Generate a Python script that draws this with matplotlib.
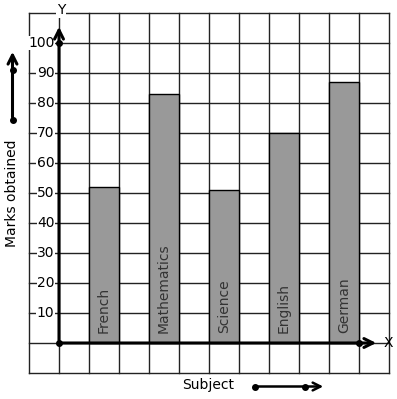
import matplotlib
matplotlib.use("Agg")
import matplotlib.pyplot as plt

subjects = ["French", "Mathematics", "Science", "English", "German"]
marks = [52, 83, 51, 70, 87]
y_ticks = [10, 20, 30, 40, 50, 60, 70, 80, 90, 100]

W, H = 397, 399
fig = plt.figure(figsize=(W / 100, H / 100), dpi=100)
ax = fig.add_axes([0, 0, 1, 1])

# pixel mapping: px = 59 + 30*x ; py = 343 - 3*v
def px2x(px):
    return (px - 59) / 30.0

def py2y(py):
    return (343 - py) / 3.0

ax.set_xlim(px2x(0), px2x(W))
ax.set_ylim(py2y(H), py2y(0))
ax.axis("off")

gc = "#222222"
# grid
for gx in range(-1, 12):
    ax.plot([gx, gx], [-10, 110], color=gc, lw=1.0, zorder=1)
for gy in range(-10, 111, 10):
    ax.plot([-1, 11], [gy, gy], color=gc, lw=1.0, zorder=1)

# bars
centers = [1.5 + 2 * i for i in range(len(subjects))]
ax.bar(centers, marks, width=1.0, color="#999999", edgecolor="black", linewidth=1.0, zorder=2)
for c, s in zip(centers, subjects):
    ax.text(c, 3.3, s, rotation=90, ha="center", va="bottom", fontsize=10, color="#333333", zorder=3)

# tick labels
for t in y_ticks:
    ax.text(px2x(54.5), t, str(t), ha="right", va="center", fontsize=10, color="black", zorder=4,
            bbox=dict(facecolor="white", edgecolor="none", pad=0.3))

# axes lines with arrows
ax.annotate("", xy=(0, py2y(24)), xytext=(0, 0),
            arrowprops=dict(arrowstyle="->", lw=2.2, color="black", mutation_scale=16), zorder=5)
ax.annotate("", xy=(px2x(379), 0), xytext=(0, 0),
            arrowprops=dict(arrowstyle="->", lw=2.2, color="black", mutation_scale=16), zorder=5)
ax.plot([0, 0, 10], [0, 100, 0], "o", color="black", ms=4, zorder=6)

ax.text(px2x(61), py2y(10), "Y", ha="center", va="center", fontsize=10, zorder=6,
        bbox=dict(facecolor="white", edgecolor="none", pad=0.5))
ax.text(px2x(388.5), 0, "X", ha="center", va="center", fontsize=10, zorder=6)

# left label and arrow
ax.text(px2x(12), py2y(193), "Marks obtained", rotation=90, ha="center", va="center", fontsize=10)
lx = px2x(12.5)
ax.annotate("", xy=(lx, py2y(49)), xytext=(lx, py2y(120)),
            arrowprops=dict(arrowstyle="->", lw=2.2, color="black", mutation_scale=16))
ax.plot([lx, lx], [py2y(120), py2y(70)], "o", color="black", ms=4)

# bottom label and arrow
ax.text(px2x(208), py2y(385), "Subject", ha="center", va="center", fontsize=10)
by = py2y(386.5)
ax.annotate("", xy=(px2x(326), by), xytext=(px2x(255), by),
            arrowprops=dict(arrowstyle="->", lw=1.8, color="black", mutation_scale=14))
ax.plot([px2x(255), px2x(305)], [by, by], "o", color="black", ms=4)

fig.savefig("out.png", dpi=100)
